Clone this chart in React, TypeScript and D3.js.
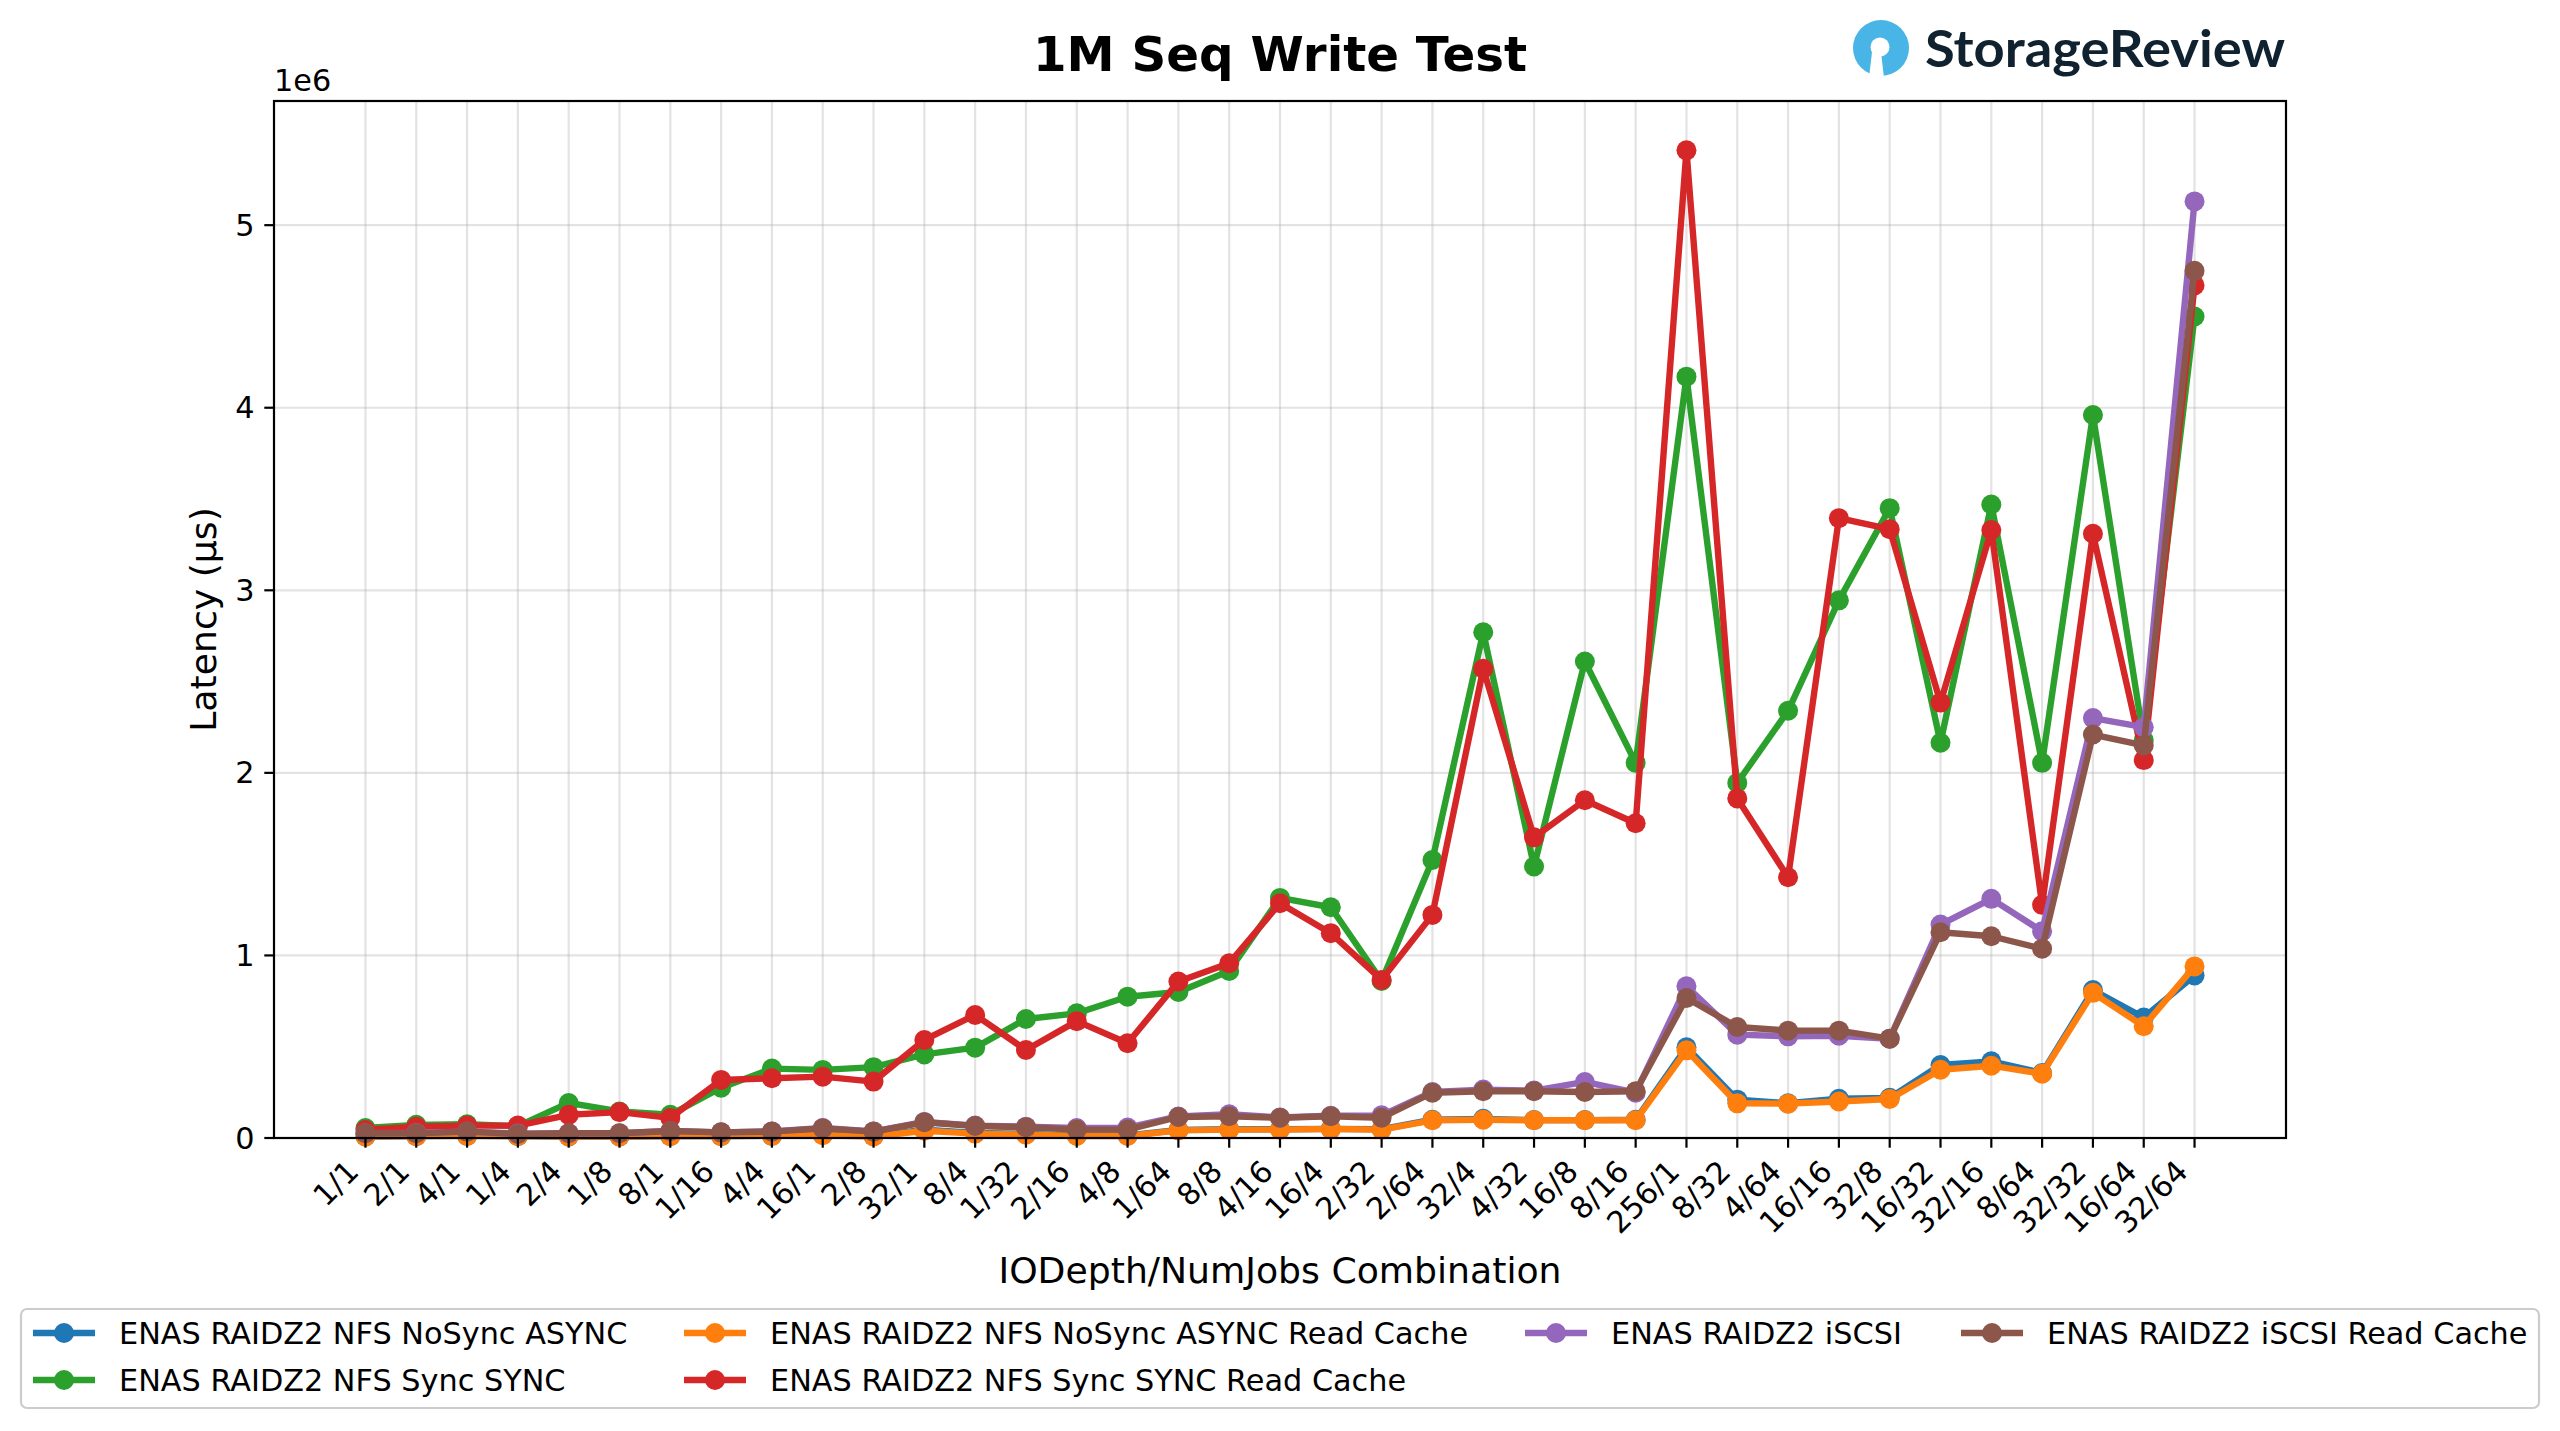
import React from "react";
import * as d3 from "d3";

const categories = [
  "1/1", "2/1", "4/1", "1/4", "2/4", "1/8", "8/1", "1/16", "4/4", "16/1", "2/8", "32/1",
  "8/4", "1/32", "2/16", "4/8", "1/64", "8/8", "4/16", "16/4", "2/32", "2/64", "32/4",
  "4/32", "16/8", "8/16", "256/1", "8/32", "4/64", "16/16", "32/8", "16/32", "32/16",
  "8/64", "32/32", "16/64", "32/64",
];

// Latency values in µs
const nfsNoSyncAsync = [
  8000, 10000, 12000, 10000, 8000, 8000, 10000, 10000, 12000, 18000, 10000, 45000, 28000,
  22000, 14000, 14000, 44000, 48000, 48000, 50000, 48000, 100000, 105000, 98000, 98000,
  100000, 497000, 210000, 190000, 215000, 220000, 400000, 420000, 356000, 810000, 660000, 890000,
];
const nfsSyncSync = [
  55000, 72000, 75000, 65000, 192000, 145000, 127000, 275000, 380000, 373000, 388000, 458000,
  495000, 652000, 683000, 774000, 800000, 915000, 1315000, 1264000, 860000, 1523000, 2770000,
  1487000, 2610000, 2055000, 4170000, 1945000, 2340000, 2945000, 3450000, 2165000, 3470000,
  2055000, 3960000, 2180000, 4500000,
];
const nfsNoSyncAsyncRC = [
  8000, 10000, 12000, 10000, 8000, 8000, 10000, 10000, 12000, 15000, 8000, 40000, 24000,
  18000, 11000, 11000, 42000, 46000, 46000, 49000, 46000, 97000, 100000, 97000, 97000,
  97000, 480000, 190000, 188000, 200000, 214000, 374000, 396000, 352000, 795000, 612000, 940000,
];
const nfsSyncSyncRC = [
  44000, 62000, 68000, 68000, 127000, 142000, 110000, 318000, 327000, 336000, 309000, 537000,
  674000, 482000, 640000, 519000, 857000, 957000, 1286000, 1122000, 866000, 1222000, 2570000,
  1647000, 1850000, 1724000, 5410000, 1860000, 1428000, 3395000, 3335000, 2385000, 3330000,
  1277000, 3310000, 2070000, 4670000,
];
const iscsi = [
  26000, 28000, 35000, 24000, 26000, 26000, 38000, 31000, 36000, 55000, 36000, 88000, 68000,
  62000, 55000, 57000, 118000, 130000, 112000, 122000, 124000, 252000, 265000, 260000, 307000,
  248000, 831000, 566000, 557000, 560000, 544000, 1169000, 1310000, 1132000, 2300000, 2250000, 5130000,
];
const iscsiRC = [
  26000, 26000, 35000, 22000, 26000, 26000, 38000, 31000, 35000, 53000, 35000, 86000, 66000,
  59000, 46000, 46000, 115000, 119000, 111000, 119000, 111000, 248000, 256000, 256000, 252000,
  256000, 767000, 608000, 588000, 588000, 544000, 1127000, 1105000, 1037000, 2210000, 2150000, 4750000,
];

const seriesNames = [
  "ENAS RAIDZ2 NFS NoSync ASYNC",
  "ENAS RAIDZ2 NFS Sync SYNC",
  "ENAS RAIDZ2 NFS NoSync ASYNC Read Cache",
  "ENAS RAIDZ2 NFS Sync SYNC Read Cache",
  "ENAS RAIDZ2 iSCSI",
  "ENAS RAIDZ2 iSCSI Read Cache",
];
const seriesValues = [nfsNoSyncAsync, nfsSyncSync, nfsNoSyncAsyncRC, nfsSyncSyncRC, iscsi, iscsiRC];
const seriesColors = ["#1f77b4", "#2ca02c", "#ff7f0e", "#d62728", "#9467bd", "#8c564b"];

const yTicks = [0, 1e6, 2e6, 3e6, 4e6, 5e6];

const W = 2560;
const H = 1431;
const M = { left: 274, right: 2286, top: 101, bottom: 1138 };
const FONT = "DejaVu Sans";
const FS = 30.3;

const legendCols = [64, 715, 1556, 1992];
const legendRows = [1333, 1380];

export default function App() {
  const n = categories.length;
  const x = d3
    .scaleLinear()
    .domain([-0.05 * (n - 1), (n - 1) * 1.05])
    .range([M.left, M.right]);
  const all = seriesValues.flat();
  const maxV = d3.max(all)!;
  const minV = d3.min(all)!;
  const y = d3
    .scaleLinear()
    .domain([0, maxV + 0.05 * (maxV - minV)])
    .range([M.bottom, M.top]);

  const line = d3
    .line<number>()
    .x((_, i) => x(i))
    .y((d) => y(d));

  const tickLen = 9.7;
  const pad = 9.7;

  const legendPos = [
    [0, 0],
    [0, 1],
    [1, 0],
    [1, 1],
    [2, 0],
    [3, 0],
  ];

  return (
    <svg
      width={W}
      height={H}
      style={{ position: "absolute", left: 0, top: 0, background: "#fff" }}
      fontFamily={FONT}
    >
      <rect x={0} y={0} width={W} height={H} fill="#fff" />

      <g stroke="#b0b0b0" strokeOpacity={0.35} strokeWidth={2.2}>
        {categories.map((c, i) => (
          <line key={"gx" + c} x1={x(i)} x2={x(i)} y1={M.top} y2={M.bottom} />
        ))}
        {yTicks.map((t) => (
          <line key={"gy" + t} x1={M.left} x2={M.right} y1={y(t)} y2={y(t)} />
        ))}
      </g>

      {seriesValues.map((vals, si) => (
        <g key={seriesNames[si]}>
          <path
            d={line(vals) || ""}
            fill="none"
            stroke={seriesColors[si]}
            strokeWidth={6.4}
            strokeLinejoin="round"
            strokeLinecap="round"
          />
          {vals.map((v, i) => (
            <circle key={i} cx={x(i)} cy={y(v)} r={10} fill={seriesColors[si]} />
          ))}
        </g>
      ))}

      <rect
        x={M.left}
        y={M.top}
        width={M.right - M.left}
        height={M.bottom - M.top}
        fill="none"
        stroke="#000"
        strokeWidth={2.2}
      />

      <g>
        {categories.map((c, i) => (
          <g key={"xt" + c}>
            <line x1={x(i)} x2={x(i)} y1={M.bottom} y2={M.bottom + tickLen} stroke="#000" strokeWidth={2.2} />
            <text
              transform={`translate(${x(i) - 5},${M.bottom + tickLen + pad + 16}) rotate(-45)`}
              textAnchor="end"
              fontSize={FS}
              fill="#000"
            >
              {c}
            </text>
          </g>
        ))}
      </g>

      <g>
        {yTicks.map((t) => (
          <g key={"yt" + t}>
            <line x1={M.left - tickLen} x2={M.left} y1={y(t)} y2={y(t)} stroke="#000" strokeWidth={2.2} />
            <text
              x={M.left - tickLen - pad}
              y={y(t)}
              textAnchor="end"
              dominantBaseline="central"
              fontSize={FS}
              fill="#000"
            >
              {t / 1e6}
            </text>
          </g>
        ))}
        <text x={M.left} y={91} fontSize={FS} fill="#000">
          1e6
        </text>
      </g>

      <text x={(M.left + M.right) / 2} y={1283} textAnchor="middle" fontSize={36.2} fill="#000">
        IODepth/NumJobs Combination
      </text>
      <text
        transform={`translate(203,${(M.top + M.bottom) / 2}) rotate(-90)`}
        textAnchor="middle"
        dominantBaseline="central"
        fontSize={36.2}
        fill="#000"
      >
        Latency (µs)
      </text>

      <text x={(M.left + M.right) / 2} y={71} textAnchor="middle" fontSize={48.3} fontWeight="bold" fill="#000">
        1M Seq Write Test
      </text>

      <g>
        <circle cx={1881} cy={48} r={28} fill="#48b5e6" />
        <path d="M1872,52 L1869,78 L1884,78 L1881,52 Z" fill="#fff" />
        <circle cx={1880} cy={47} r={9.5} fill="#fff" />
        <text
          x={1925}
          y={67}
          fontFamily="Lato"
          fontWeight={700}
          fontSize={52}
          fill="#10222f"
          textLength={360}
          lengthAdjust="spacingAndGlyphs"
        >
          StorageReview
        </text>
      </g>

      <rect
        x={21}
        y={1309}
        width={2518}
        height={99}
        rx={6}
        ry={6}
        fill="#fff"
        fillOpacity={0.8}
        stroke="#cccccc"
        strokeWidth={2.2}
      />
      {seriesNames.map((name, si) => {
        const [col, row] = legendPos[si];
        const cx = legendCols[col];
        const cy = legendRows[row];
        return (
          <g key={"lg" + name}>
            <line x1={cx - 31} x2={cx + 31} y1={cy} y2={cy} stroke={seriesColors[si]} strokeWidth={6.4} />
            <circle cx={cx} cy={cy} r={10} fill={seriesColors[si]} />
            <text x={cx + 55} y={cy} dominantBaseline="central" fontSize={FS} fill="#000">
              {name}
            </text>
          </g>
        );
      })}
    </svg>
  );
}
